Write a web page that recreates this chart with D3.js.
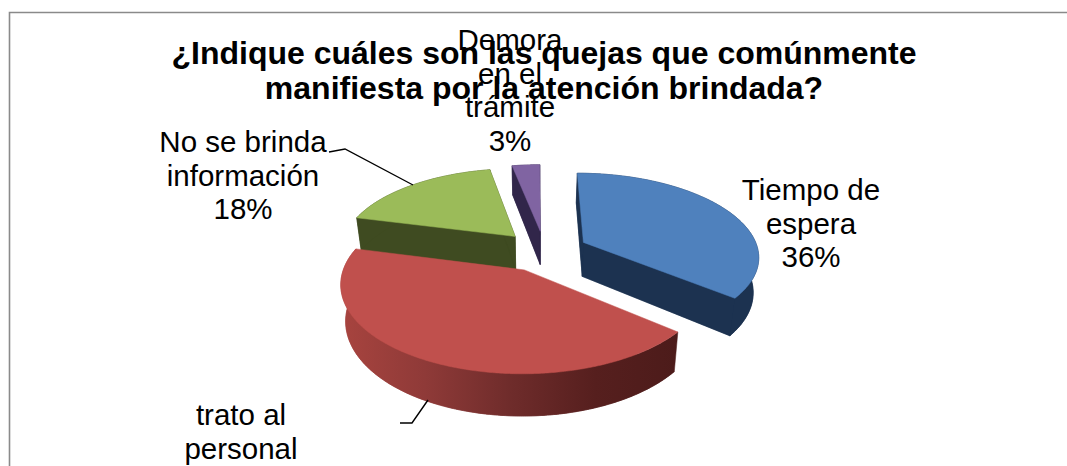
<!DOCTYPE html>
<html><head><meta charset="utf-8">
<script src="https://cdn.jsdelivr.net/npm/d3@7"></script>
<style>html,body{margin:0;padding:0;background:#fff;overflow:hidden}svg{display:block}text{font-family:"Liberation Sans",Arial,sans-serif;fill:#000}</style>
</head><body><svg id="c" width="1067" height="466"></svg>
<script>
const categories = ["Tiempo de espera","trato al personal","No se brinda información","Demora en el trámite"];
const values = [36,43,18,3];
const topColors = ["#4f81bd","#c0504d","#9bbb59","#8064a2"];
const sideColors = ["#1c3250","#6b2a28","#3f4b21","#31264a"];
const labelLines = [["Tiempo de","espera"],["trato al","personal"],["No se brinda","información"],["Demora","en el","trámite"]];
const labelAnchors = [[811,200],[241,425],[243,152],[510,50]];
const titleLines = ["¿Indique cuáles son las quejas que comúnmente","manifiesta por la atención brindada?"];
const drawOrder = [3,2,0,1];

const svg = d3.select("#c");
const W=1067,H=466;
// perspective model of the disc
const P={cx:536,cy:251,A:175,B:82,p:0.15,x0:0.049,e:0.25,D:34.5,t:0.975};
function project(X,Y,bottom){
  const w=1+P.p*Y;
  let sx=P.cx+P.A*(X+P.x0)/w;
  let sy=P.cy-P.B*Y/w;
  if(bottom){sx=P.cx+(sx-P.cx)*P.t;sy+=P.D/w;}
  return [sx,sy];
}
const pie=d3.pie().sort(null).value(d=>d)(values);
const line=d3.line();

const defs=svg.append("defs");
const g=defs.append("linearGradient").attr("id","redSide").attr("gradientUnits","userSpaceOnUse")
  .attr("x1",340).attr("x2",680).attr("y1",0).attr("y2",0);
[[0,"#a8443f"],[0.25,"#8f3a38"],[0.5,"#6f2c2b"],[0.75,"#561f1e"],[1,"#4c1b1a"]].forEach(s=>g.append("stop").attr("offset",s[0]).attr("stop-color",s[1]));

svg.append("path").attr("d",line([[9.5,466],[9.5,12.5],[1067,12.5]])).attr("fill","none").attr("stroke","#8a8a8a").attr("stroke-width",1.6);

drawOrder.forEach(i=>{
  const a=pie[i], mid=(a.startAngle+a.endAngle)/2;
  const ox=P.e*Math.sin(mid), oy=P.e*Math.cos(mid);
  const pt=(th,b)=>project(ox+Math.sin(th),oy+Math.cos(th),b);
  const apex=b=>project(ox,oy,b);
  const angles=d3.range(a.startAngle,a.endAngle,0.01).concat([a.endAngle]);
  const side=i===1?"url(#redSide)":sideColors[i];
  const slice=svg.append("g").attr("class","slice");
  const drawFace=(pts,fill)=>slice.append("path").attr("d",line(pts)+"Z").attr("fill",fill).attr("stroke",fill).attr("stroke-width",0.5);
  drawFace([apex(true)].concat(angles.map(t=>pt(t,true))),side);
  [a.startAngle,a.endAngle].forEach(t=>drawFace([apex(false),pt(t,false),pt(t,true),apex(true)],i===1?"none":side));
  drawFace(angles.map(t=>pt(t,false)).concat(angles.slice().reverse().map(t=>pt(t,true))),side);
  drawFace([apex(false)].concat(angles.map(t=>pt(t,false))),topColors[i]);
});

// leader lines
[[[329,152],[345,149],[413,185]],[[400,423],[412,423],[428,400]]].forEach(l=>
  svg.append("path").attr("d",line(l)).attr("fill","none").attr("stroke","#000").attr("stroke-width",1.4));

// title
svg.append("g").selectAll("text").data(titleLines).join("text")
  .attr("x",544).attr("y",(d,i)=>64+i*34.5).attr("text-anchor","middle")
  .attr("font-weight","bold").attr("font-size",32).text(d=>d);

// data labels (the reference crops away anything below the picture's bottom edge)
const lh=33.5;
categories.forEach((c,i)=>{
  const lines=labelLines[i].concat([values[i]+"%"]).filter((d,j)=>labelAnchors[i][1]+j*lh<H);
  svg.append("g").selectAll("text").data(lines).join("text")
    .attr("x",labelAnchors[i][0]).attr("y",(d,j)=>labelAnchors[i][1]+j*lh)
    .attr("text-anchor","middle").attr("font-size",29.5).text(d=>d);
});
</script></body></html>
